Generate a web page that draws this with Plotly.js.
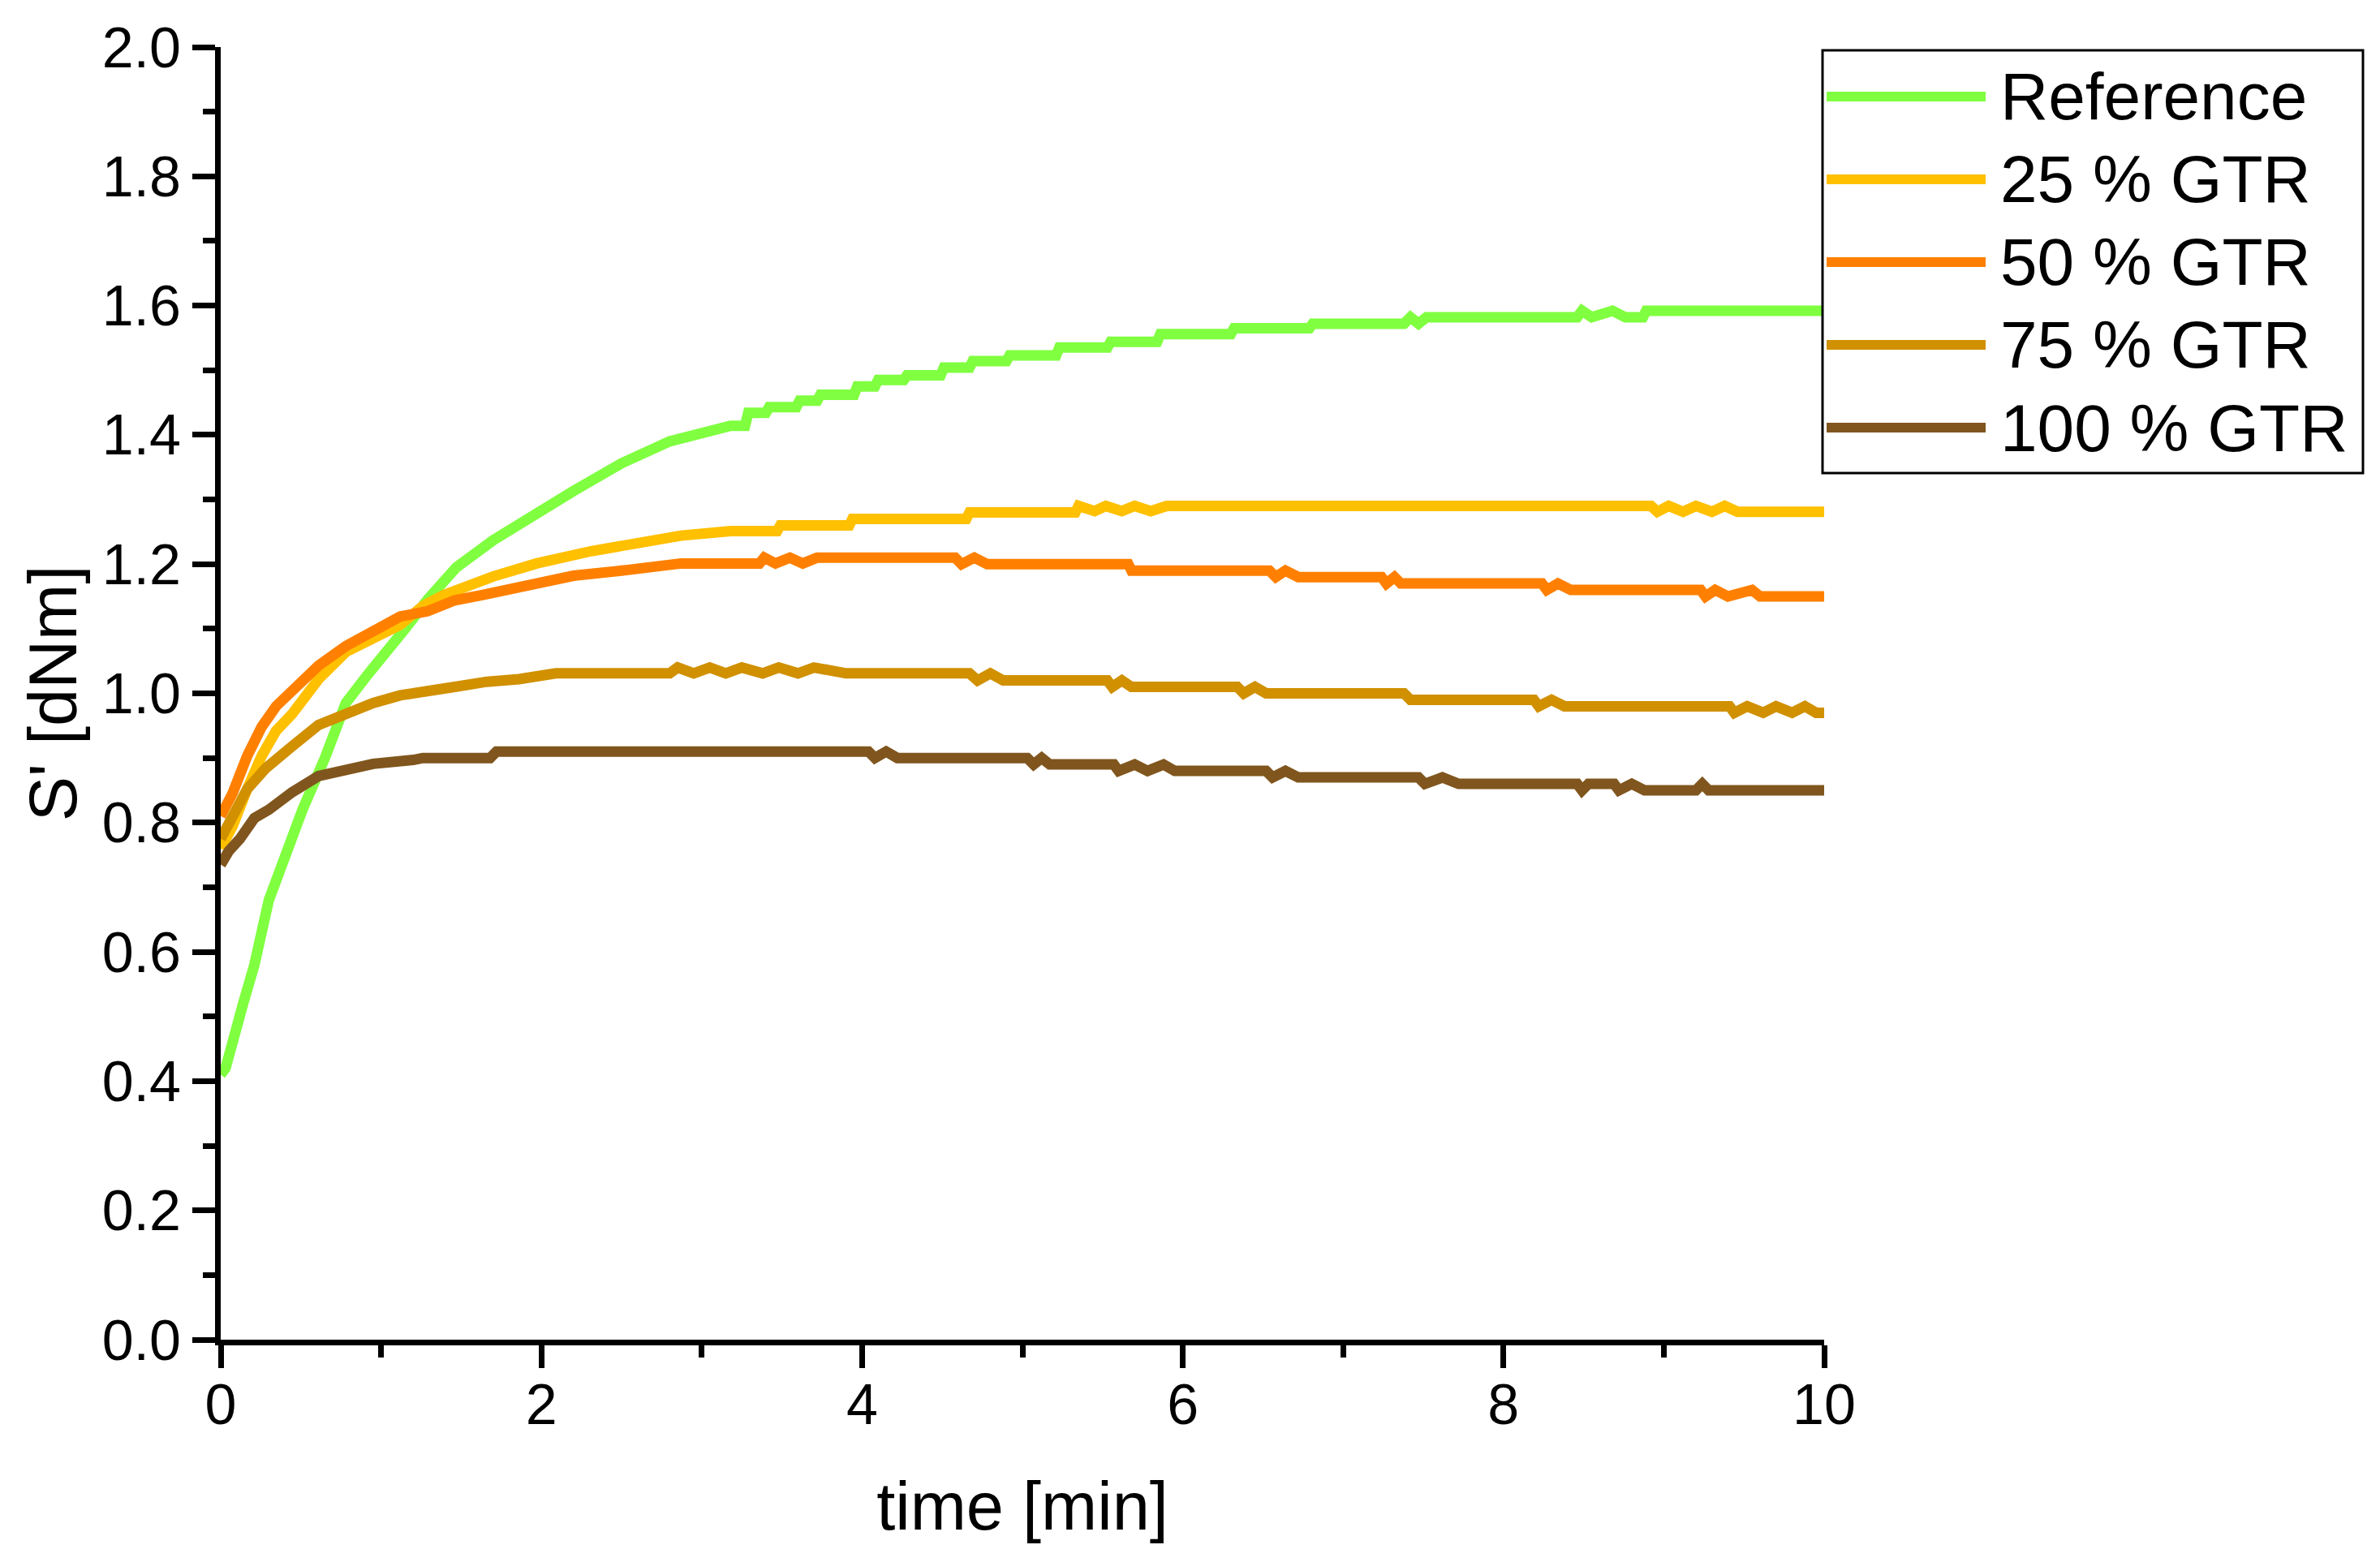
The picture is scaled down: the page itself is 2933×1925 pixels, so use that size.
<!DOCTYPE html>
<html>
<head>
<meta charset="utf-8">
<script src="https://cdn.plot.ly/plotly-3.0.1.min.js"></script>
<style>
  html, body { margin: 0; padding: 0; background: #fff; }
  #chart { width: 2933px; height: 1925px; }
</style>
</head>
<body>
<div id="chart"></div>
<script>
// ---------- Data ----------
const seriesNames = ["Reference", "25 % GTR", "50 % GTR", "75 % GTR", "100 % GTR"];

const refTime = [0, 0.03, 0.14, 0.21, 0.30, 0.39, 0.51, 0.65, 0.78, 0.92, 1.04, 1.15, 1.29, 1.47, 1.70, 1.93, 2.20, 2.50, 2.80,
  3.18, 3.27, 3.29, 3.40, 3.42, 3.59, 3.61, 3.72, 3.74, 3.95, 3.97, 4.08, 4.10, 4.26, 4.28, 4.49, 4.51, 4.67, 4.69, 4.90, 4.92,
  5.21, 5.23, 5.53, 5.55, 5.84, 5.86, 6.30, 6.32, 6.79, 6.81, 7.38, 7.42, 7.47, 7.52, 8.46, 8.49, 8.55, 8.68, 8.76, 8.87, 8.89, 10];
const refS = [0.41, 0.42, 0.52, 0.58, 0.68, 0.745, 0.82, 0.90, 0.985, 1.03, 1.07, 1.10, 1.145, 1.195, 1.237, 1.274, 1.313, 1.356, 1.39,
  1.414, 1.414, 1.434, 1.434, 1.443, 1.443, 1.453, 1.453, 1.462, 1.462, 1.475, 1.475, 1.485, 1.485, 1.492, 1.492, 1.504, 1.504, 1.514, 1.514, 1.523,
  1.523, 1.535, 1.535, 1.544, 1.544, 1.556, 1.556, 1.565, 1.565, 1.572, 1.572, 1.582, 1.572, 1.582, 1.582, 1.592, 1.582, 1.592, 1.582, 1.582, 1.592, 1.592];

const gtr25Time = [0, 0.075, 0.165, 0.255, 0.345, 0.445, 0.61, 0.78, 0.95, 1.12, 1.26, 1.39, 1.70, 1.97, 2.31, 2.65, 2.87,
  3.18, 3.47, 3.49, 3.92, 3.94, 4.65, 4.67, 5.33, 5.35, 5.45, 5.52, 5.62, 5.70, 5.80, 5.90,
  8.92, 8.96, 9.03, 9.12, 9.20, 9.30, 9.38, 9.46, 10];
const gtr25S = [0.76, 0.795, 0.852, 0.903, 0.942, 0.968, 1.022, 1.064, 1.085, 1.106, 1.135, 1.152, 1.181, 1.201, 1.22, 1.237, 1.244,
  1.251, 1.251, 1.26, 1.26, 1.27, 1.27, 1.28, 1.28, 1.29, 1.282, 1.29, 1.282, 1.29, 1.282, 1.29,
  1.29, 1.281, 1.29, 1.281, 1.29, 1.281, 1.29, 1.281, 1.281];

const gtr50Time = [0, 0.075, 0.165, 0.255, 0.345, 0.445, 0.61, 0.78, 0.95, 1.12, 1.29, 1.46, 1.63, 1.75, 1.97, 2.20, 2.54, 2.87,
  3.36, 3.39, 3.46, 3.55, 3.63, 3.72, 4.58, 4.62, 4.70, 4.78, 5.66, 5.68, 6.54, 6.58, 6.64, 6.72,
  7.24, 7.27, 7.32, 7.36, 8.24, 8.27, 8.34, 8.42, 9.23, 9.26, 9.32, 9.40, 9.55, 9.60, 10];
const gtr50S = [0.81, 0.846, 0.903, 0.948, 0.98, 1.002, 1.043, 1.073, 1.098, 1.119, 1.127, 1.144, 1.152, 1.159, 1.169, 1.182, 1.191, 1.201,
  1.201, 1.21, 1.201, 1.21, 1.201, 1.21, 1.21, 1.20, 1.21, 1.20, 1.20, 1.19, 1.19, 1.18, 1.19, 1.18,
  1.18, 1.17, 1.18, 1.17, 1.17, 1.16, 1.17, 1.16, 1.16, 1.15, 1.16, 1.15, 1.16, 1.15, 1.15];

const gtr75Time = [0, 0.075, 0.165, 0.28, 0.39, 0.445, 0.61, 0.78, 0.95, 1.12, 1.29, 1.46, 1.66, 1.86, 2.09,
  2.80, 2.85, 2.95, 3.05, 3.15, 3.25, 3.38, 3.48, 3.60, 3.70, 3.90, 4.67, 4.72, 4.80, 4.88, 5.53, 5.56, 5.62, 5.68,
  6.34, 6.38, 6.45, 6.52, 7.38, 7.42, 8.19, 8.22, 8.30, 8.38, 9.41, 9.44, 9.52, 9.62, 9.70, 9.80, 9.88, 9.95, 10];
const gtr75S = [0.775, 0.813, 0.852, 0.884, 0.91, 0.918, 0.951, 0.968, 0.985, 0.997, 1.002, 1.01, 1.018, 1.022, 1.031,
  1.031, 1.04, 1.031, 1.04, 1.031, 1.04, 1.031, 1.04, 1.031, 1.04, 1.031, 1.031, 1.02, 1.031, 1.02, 1.02, 1.01, 1.02, 1.01,
  1.01, 1.00, 1.01, 1.00, 1.00, 0.99, 0.99, 0.98, 0.99, 0.98, 0.98, 0.97, 0.98, 0.97, 0.98, 0.97, 0.98, 0.97, 0.97];

const gtr100Time = [0, 0.05, 0.12, 0.21, 0.30, 0.39, 0.445, 0.61, 0.78, 0.95, 1.20, 1.26, 1.68, 1.72,
  4.04, 4.08, 4.15, 4.22, 5.03, 5.07, 5.12, 5.17, 5.57, 5.60, 5.70, 5.78, 5.88, 5.95, 6.52, 6.56, 6.64, 6.72,
  7.47, 7.51, 7.62, 7.72, 8.46, 8.49, 8.53, 8.69, 8.72, 8.80, 8.88, 9.20, 9.24, 9.28, 10];
const gtr100S = [0.735, 0.756, 0.775, 0.807, 0.82, 0.839, 0.847, 0.872, 0.88, 0.891, 0.897, 0.90, 0.90, 0.91,
  0.91, 0.90, 0.91, 0.90, 0.90, 0.89, 0.90, 0.89, 0.89, 0.88, 0.89, 0.88, 0.89, 0.88, 0.88, 0.87, 0.88, 0.87,
  0.87, 0.86, 0.87, 0.86, 0.86, 0.85, 0.86, 0.86, 0.85, 0.86, 0.85, 0.85, 0.86, 0.85, 0.85];

const xTicks = [0, 2, 4, 6, 8, 10];
const yTicks = [0, 0.2, 0.4, 0.6, 0.8, 1.0, 1.2, 1.4, 1.6, 1.8, 2.0];

// ---------- Style ----------
const COLORS = ["#80ff40", "#ffc000", "#ff8000", "#d09000", "#80561e"];
const FONT = "Liberation Sans, Arial, sans-serif";
const W = 2933, H = 1925;
const M = { l: 272, r: 685, t: 58, b: 274 };
const plotW = W - M.l - M.r;
const plotH = H - M.t - M.b;
const px2x = (px) => (px - M.l) / plotW;
const px2y = (py) => (H - M.b - py) / plotH;

const xs = [refTime, gtr25Time, gtr50Time, gtr75Time, gtr100Time];
const ys = [refS, gtr25S, gtr50S, gtr75S, gtr100S];

const traces = seriesNames.map((name, i) => ({
  x: xs[i],
  y: ys[i],
  type: "scatter",
  mode: "lines",
  name: name,
  line: { color: COLORS[i], width: 13 },
  hoverinfo: "skip",
}));

// ---------- Legend drawn as shapes so the line samples are long ----------
const LEG = { x0: 2246, x1: 2912, y0: 62, y1: 583, row0: 119, rowStep: 102, lineX0: 2251, lineX1: 2447, textX: 2463 };
const shapes = [{
  type: "rect", xref: "paper", yref: "paper", layer: "above",
  x0: px2x(LEG.x0), x1: px2x(LEG.x1), y0: px2y(LEG.y1), y1: px2y(LEG.y0),
  line: { color: "#000", width: 3 }, fillcolor: "#fff",
}];
const annotations = [];
seriesNames.forEach((name, i) => {
  const ry = LEG.row0 + LEG.rowStep * i;
  shapes.push({
    type: "line", xref: "paper", yref: "paper", layer: "above",
    x0: px2x(LEG.lineX0), x1: px2x(LEG.lineX1), y0: px2y(ry), y1: px2y(ry),
    line: { color: COLORS[i], width: 12 },
  });
  annotations.push({
    xref: "paper", yref: "paper", x: px2x(LEG.textX), y: px2y(ry),
    xanchor: "left", yanchor: "middle", showarrow: false,
    text: name, font: { family: FONT, size: 82, color: "#000" },
  });
});

const axisBase = {
  showline: true, linewidth: 7, linecolor: "#000",
  ticks: "outside", ticklen: 28, tickwidth: 7, tickcolor: "#000",
  showgrid: false, zeroline: false, automargin: false,
  tickfont: { family: FONT, size: 70, color: "#000" },
};

const layout = {
  width: W, height: H,
  margin: M,
  paper_bgcolor: "#fff", plot_bgcolor: "#fff",
  font: { family: FONT, color: "#000" },
  showlegend: false,
  xaxis: Object.assign({}, axisBase, {
    range: [0, 10], tickvals: xTicks, ticklabelstandoff: -15,
    minor: { dtick: 1, ticks: "outside", ticklen: 15, tickwidth: 7, tickcolor: "#000", showgrid: false },
    title: { text: "time [min]", font: { family: FONT, size: 83, color: "#000" }, standoff: 60 },
  }),
  yaxis: Object.assign({}, axisBase, {
    range: [0, 2], tickvals: yTicks, tickformat: ".1f", ticklabelstandoff: 0,
    minor: { dtick: 0.1, ticks: "outside", ticklen: 15, tickwidth: 7, tickcolor: "#000", showgrid: false },
    title: { text: "S' [dNm]", font: { family: FONT, size: 83, color: "#000" }, standoff: 6 },
  }),
  shapes: shapes,
  annotations: annotations,
};

Plotly.newPlot("chart", traces, layout, { displayModeBar: false, staticPlot: true });
</script>
</body>
</html>
